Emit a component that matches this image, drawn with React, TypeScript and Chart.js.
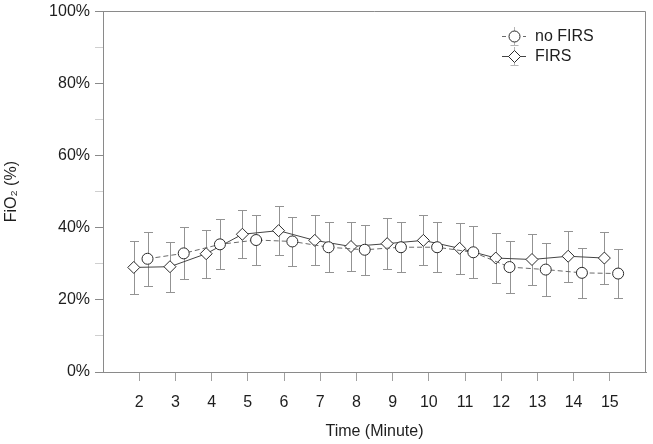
import React, { useEffect, useRef } from 'react';
import { Chart, registerables } from 'chart.js';

Chart.register(...registerables);

// ---- data ----
const minutes = [2, 3, 4, 5, 6, 7, 8, 9, 10, 11, 12, 13, 14, 15];
const noFirsMean = [31.4, 32.9, 35.4, 36.6, 36.2, 34.6, 33.9, 34.6, 34.6, 33.2, 29.1, 28.4, 27.5, 27.3];
const noFirsSD = [7.5, 7.2, 6.9, 6.9, 6.9, 6.9, 7.0, 7.0, 7.0, 7.2, 7.1, 7.3, 7.0, 6.9];
const firsMean = [29.0, 29.2, 32.8, 38.2, 39.2, 36.5, 34.8, 35.6, 36.5, 34.3, 31.6, 31.2, 32.1, 31.6];
const firsSD = [7.3, 6.9, 6.7, 6.6, 6.7, 6.9, 6.9, 7.0, 6.9, 7.0, 7.0, 7.2, 7.1, 7.2];
const yTickValues = [0, 10, 20, 30, 40, 50, 60, 70, 80, 90, 100];
const xTickValues = minutes;
const seriesLabels = ['no FIRS', 'FIRS'];
// horizontal dodge of the two groups (in minutes)
const NO_FIRS_DODGE = 0.23;
const FIRS_DODGE = -0.15;

const FONT_FAMILY = '"Liberation Sans", Arial, Helvetica, sans-serif';
const TEXT_COLOR = '#1e1e1e';
const AXIS_COLOR = '#8a8a8a';
const ERR_COLOR = '#939393';

const errorBarPlugin = {
  id: 'errorBars',
  beforeDatasetsDraw(chart: any) {
    const { ctx, scales } = chart;
    const x = scales.x;
    const y = scales.y;
    ctx.save();
    ctx.strokeStyle = ERR_COLOR;
    ctx.lineWidth = 1;
    const draw = (dodge: number, means: number[], sds: number[]) => {
      minutes.forEach((m, i) => {
        const px = Math.round(x.getPixelForValue(m + dodge)) + 0.5;
        const top = Math.round(y.getPixelForValue(means[i] + sds[i])) + 0.5;
        const bot = Math.round(y.getPixelForValue(means[i] - sds[i])) + 0.5;
        ctx.beginPath();
        ctx.moveTo(px, top);
        ctx.lineTo(px, bot);
        ctx.moveTo(px - 4.5, top);
        ctx.lineTo(px + 4.5, top);
        ctx.moveTo(px - 4.5, bot);
        ctx.lineTo(px + 4.5, bot);
        ctx.stroke();
      });
    };
    draw(NO_FIRS_DODGE, noFirsMean, noFirsSD);
    draw(FIRS_DODGE, firsMean, firsSD);
    ctx.restore();
  },
};

const framePlugin = {
  id: 'frame',
  beforeDatasetsDraw(chart: any) {
    const { ctx, chartArea } = chart;
    ctx.save();
    ctx.strokeStyle = AXIS_COLOR;
    ctx.lineWidth = 1;
    ctx.beginPath();
    const top = Math.round(chartArea.top) + 0.5;
    const right = Math.round(chartArea.right) - 0.5;
    ctx.moveTo(chartArea.left, top);
    ctx.lineTo(right, top);
    ctx.lineTo(right, chartArea.bottom);
    ctx.stroke();
    ctx.restore();
  },
};

const legendPlugin = {
  id: 'customLegend',
  afterDraw(chart: any) {
    const { ctx, chartArea } = chart;
    const x0 = chartArea.right - 144;
    const rows = [36, 56];
    ctx.save();
    seriesLabels.forEach((label, i) => {
      const cy = rows[i];
      const cx = x0 + 12;
      // error bar symbol
      ctx.strokeStyle = '#b5b5b5';
      ctx.lineWidth = 1;
      ctx.setLineDash([]);
      ctx.beginPath();
      ctx.moveTo(cx + 0.5, cy - 9);
      ctx.lineTo(cx + 0.5, cy + 9);
      ctx.moveTo(cx - 3.5, cy + 9.5);
      ctx.lineTo(cx + 4.5, cy + 9.5);
      ctx.stroke();
      // line
      ctx.strokeStyle = i === 0 ? '#6a6a6a' : '#444';
      if (i === 0) ctx.setLineDash([4, 3]);
      ctx.beginPath();
      ctx.moveTo(x0, cy + 0.5);
      ctx.lineTo(x0 + 24, cy + 0.5);
      ctx.stroke();
      ctx.setLineDash([]);
      // marker
      ctx.fillStyle = '#fff';
      ctx.strokeStyle = '#2a2a2a';
      ctx.beginPath();
      if (i === 0) {
        ctx.arc(cx + 0.5, cy + 0.5, 5.5, 0, Math.PI * 2);
      } else {
        const r = 6;
        ctx.moveTo(cx + 0.5 - r, cy + 0.5);
        ctx.lineTo(cx + 0.5, cy + 0.5 - r);
        ctx.lineTo(cx + 0.5 + r, cy + 0.5);
        ctx.lineTo(cx + 0.5, cy + 0.5 + r);
        ctx.closePath();
      }
      ctx.fill();
      ctx.stroke();
      // text
      ctx.fillStyle = TEXT_COLOR;
      ctx.font = `16px ${FONT_FAMILY}`;
      ctx.textAlign = 'left';
      ctx.textBaseline = 'middle';
      ctx.fillText(label, x0 + 33, cy + 1);
    });
    ctx.restore();
  },
};

export default function App() {
  const canvasRef = useRef<HTMLCanvasElement | null>(null);

  useEffect(() => {
    const canvas = canvasRef.current;
    if (!canvas) return;
    const tickFont = { family: FONT_FAMILY, size: 16 };
    const chart = new Chart(canvas, {
      type: 'line',
      data: {
        datasets: [
          {
            label: seriesLabels[0],
            data: minutes.map((m, i) => ({ x: m + NO_FIRS_DODGE, y: noFirsMean[i] })),
            borderColor: '#6a6a6a',
            borderWidth: 1,
            borderDash: [5, 3],
            pointStyle: 'circle',
            pointRadius: 5.5,
            pointBackgroundColor: '#ffffff',
            pointBorderColor: '#2a2a2a',
            pointBorderWidth: 1,
            tension: 0,
            fill: false,
          },
          {
            label: seriesLabels[1],
            data: minutes.map((m, i) => ({ x: m + FIRS_DODGE, y: firsMean[i] })),
            borderColor: '#444444',
            borderWidth: 1,
            pointStyle: 'rectRot',
            pointRadius: 6,
            pointBackgroundColor: '#ffffff',
            pointBorderColor: '#2a2a2a',
            pointBorderWidth: 1,
            tension: 0,
            fill: false,
          },
        ],
      },
      options: {
        animation: false,
        responsive: false,
        maintainAspectRatio: false,
        layout: { padding: { top: 7, right: 4, left: 0, bottom: 0 } },
        plugins: {
          legend: { display: false },
          tooltip: { enabled: false },
        },
        scales: {
          x: {
            type: 'linear',
            min: 1,
            max: 16,
            position: 'bottom',
            afterBuildTicks: (s: any) => {
              s.ticks = xTickValues.map((v) => ({ value: v }));
            },
            afterFit: (s: any) => {
              s.height = 72;
            },
            ticks: {
              autoSkip: false,
              maxRotation: 0,
              padding: 12,
              color: TEXT_COLOR,
              font: tickFont,
              callback: (v: any) => String(v),
            },
            grid: {
              drawOnChartArea: false,
              drawTicks: true,
              tickLength: 9,
              color: '#a0a0a0',
            },
            border: { color: AXIS_COLOR, width: 1 },
            title: {
              display: true,
              text: 'Time (Minute)',
              color: TEXT_COLOR,
              font: tickFont,
              padding: { top: 0, bottom: 3 },
            },
          },
          y: {
            type: 'linear',
            min: 0,
            max: 100,
            afterBuildTicks: (s: any) => {
              s.ticks = yTickValues.map((v) => ({ value: v }));
            },
            afterFit: (s: any) => {
              s.width = 103;
            },
            ticks: {
              autoSkip: false,
              padding: 5,
              color: TEXT_COLOR,
              font: { family: FONT_FAMILY, size: 16, lineHeight: 0.8 },
              callback: (v: any) => (Number(v) % 20 === 0 ? `${v}%` : ''),
            },
            grid: {
              drawOnChartArea: false,
              drawTicks: true,
              tickLength: 8,
              color: (c: any) => (c.tick && c.tick.value % 20 === 0 ? '#8a8a8a' : '#cfcfcf'),
            },
            border: { color: AXIS_COLOR, width: 1 },
            title: {
              display: true,
              text: 'FiO₂ (%)',
              color: TEXT_COLOR,
              font: tickFont,
              padding: { top: 2, bottom: 0 },
            },
          },
        },
      },
      plugins: [framePlugin, errorBarPlugin, legendPlugin],
    } as any);
    return () => chart.destroy();
  }, []);

  return (
    <div style={{ position: 'fixed', left: 0, top: 0, width: 653, height: 444, background: '#fff' }}>
      <canvas ref={canvasRef} width={653} height={444} style={{ display: 'block', width: 653, height: 444 }} />
    </div>
  );
}
